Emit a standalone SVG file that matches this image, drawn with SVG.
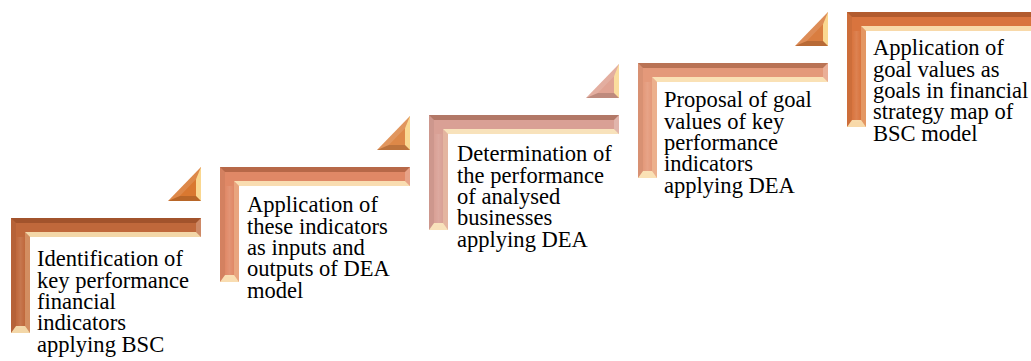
<svg xmlns="http://www.w3.org/2000/svg" xmlns:xlink="http://www.w3.org/1999/xlink" width="1031" height="361" viewBox="0 0 1031 361">
  <style>
    .lbl { font-family: "Liberation Serif", "Times New Roman", serif; font-size: 24px; fill: #000; }
    .dark { fill: #6a2e12; fill-opacity: 0.35; }
    .darkL { fill: #000; fill-opacity: 0.05; }
    .lite { fill: #fff; fill-opacity: 0.22; }
    .cream { fill: #fff2c4; fill-opacity: 0.8; }
    .creamS { fill: #ffe9b8; fill-opacity: 0.3; }
    .tdark { fill: #000; fill-opacity: 0.15; }
    .tcream { fill: #ffe7a0; fill-opacity: 0.85; }
    .tlite { fill: #fff; fill-opacity: 0.12; }
  </style>
  <defs>
    <linearGradient id="vsheen" x1="0" y1="0" x2="1" y2="0">
      <stop offset="0" stop-color="#fff" stop-opacity="0"/>
      <stop offset="0.5" stop-color="#fff" stop-opacity="0.1"/>
      <stop offset="1" stop-color="#fff" stop-opacity="0"/>
    </linearGradient>
    <g id="corner">
      <path d="M0,0 H190 V19 H19 V115 H0 Z"/>
      <rect x="5" y="19" width="9" height="91" fill="url(#vsheen)"/>
      <path class="dark" d="M0,0 H190 L185,5 H5 Z"/>
      <path class="lite" d="M190,0 V19 L185,14 V5 Z"/>
      <path class="cream" d="M190,19 H19 L14,14 H185 Z"/>
      <path class="creamS" d="M19,19 V115 L14,109 V14 Z"/>
      <path class="cream" d="M19,115 H0 L5,108 H14 Z"/>
      <path class="darkL" d="M0,115 V0 L5,5 V108 Z"/>
    </g>
    <g id="tri">
      <path d="M0,-34 V0 H-33 Z"/>
      <path class="tcream" d="M0,-34 V0 L-5,-5 V-21.7 Z"/>
      <path class="tdark" d="M0,0 H-33 L-21.2,-5 H-5 Z"/>
      <path class="tlite" d="M-33,0 L0,-34 L-5,-21.7 L-21.2,-5 Z"/>
    </g>
  </defs>

  <g id="connectors"></g>

  <g id="step1">
    <use xlink:href="#corner" href="#corner" transform="translate(11,218)" fill="#c0683b"/>
    <use xlink:href="#tri" href="#tri" transform="translate(201,201)" fill="#d97830"/>
    <text class="lbl" transform="translate(37,266) scale(0.94,1)"><tspan x="0" y="0">Identification of</tspan><tspan x="0" dy="21.5">key performance</tspan><tspan x="0" dy="21.5">financial</tspan><tspan x="0" dy="21.5">indicators</tspan><tspan x="0" dy="21.5">applying BSC</tspan></text>
  </g>

  <g id="step2">
    <use xlink:href="#corner" href="#corner" transform="translate(220,167)" fill="#e08866"/>
    <use xlink:href="#tri" href="#tri" transform="translate(410,150)" fill="#dd8848"/>
    <text class="lbl" transform="translate(247,212) scale(0.94,1)"><tspan x="0" y="0">Application of</tspan><tspan x="0" dy="21.5">these indicators</tspan><tspan x="0" dy="21.5">as inputs and</tspan><tspan x="0" dy="21.5">outputs of DEA</tspan><tspan x="0" dy="21.5">model</tspan></text>
  </g>

  <g id="step3">
    <use xlink:href="#corner" href="#corner" transform="translate(429,115)" fill="#d9a095"/>
    <use xlink:href="#tri" href="#tri" transform="translate(619,98)" fill="#e0a393"/>
    <text class="lbl" transform="translate(457,161) scale(0.94,1)"><tspan x="0" y="0">Determination of</tspan><tspan x="0" dy="21.5">the performance</tspan><tspan x="0" dy="21.5">of analysed</tspan><tspan x="0" dy="21.5">businesses</tspan><tspan x="0" dy="21.5">applying DEA</tspan></text>
  </g>

  <g id="step4">
    <use xlink:href="#corner" href="#corner" transform="translate(638,63)" fill="#e4997a"/>
    <use xlink:href="#tri" href="#tri" transform="translate(828,46)" fill="#d97d40"/>
    <text class="lbl" transform="translate(664,107) scale(0.94,1)"><tspan x="0" y="0">Proposal of goal</tspan><tspan x="0" dy="21.5">values of key</tspan><tspan x="0" dy="21.5">performance</tspan><tspan x="0" dy="21.5">indicators</tspan><tspan x="0" dy="21.5">applying DEA</tspan></text>
  </g>

  <g id="step5">
    <use xlink:href="#corner" href="#corner" transform="translate(847,12)" fill="#d9743e"/>
    <text class="lbl" transform="translate(873,55) scale(0.94,1)"><tspan x="0" y="0">Application of</tspan><tspan x="0" dy="21.5">goal values as</tspan><tspan x="0" dy="21.5">goals in financial</tspan><tspan x="0" dy="21.5">strategy map of</tspan><tspan x="0" dy="21.5">BSC model</tspan></text>
  </g>
</svg>
